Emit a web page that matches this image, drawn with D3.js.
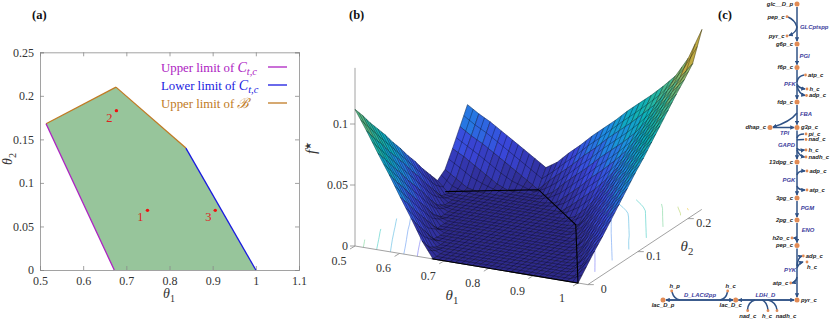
<!DOCTYPE html>
<html>
<head>
<meta charset="utf-8">
<script src="https://cdn.jsdelivr.net/npm/d3@7"></script>
<style>
  html, body { margin: 0; padding: 0; background: #fff; }
  svg { display: block; }
  text { font-family: "Liberation Serif", serif; fill: #333; }
  .met { font-family: "Liberation Sans", sans-serif; font-size: 5.9px; font-style: italic; font-weight: bold; fill: #222; }
  .rxn { font-family: "Liberation Sans", sans-serif; font-size: 5.9px; font-style: italic; font-weight: bold; fill: #3c3c9c; }
</style>
</head>
<body>
<script>
// Panel (a) values
var feasTheta1 = [0.514, 0.676, 0.838, 1, 0.672];
var feasTheta2 = [0.168, 0.21, 0.14, 0, 0];
var opTheta1 = [0.749, 0.677, 0.906];
var opTheta2 = [0.0685, 0.183, 0.0685];
var opNames = ["1", "2", "3"];
var aXTicks = [0.5, 0.6, 0.7, 0.8, 0.9, 1, 1.1];
var aYTicks = [0, 0.05, 0.1, 0.15, 0.2, 0.25];

// Panel (b) values, f* in thousandths: one row per theta2, one column per theta1
var surfTheta1 = [0.5, 0.525, 0.55, 0.575, 0.6, 0.625, 0.65, 0.675, 0.7, 0.725, 0.75, 0.775, 0.8, 0.825, 0.85, 0.875, 0.9, 0.925, 0.95, 0.975, 1];
var surfTheta2 = [0, 0.015, 0.03, 0.045, 0.06, 0.075, 0.09, 0.105, 0.12, 0.135, 0.15, 0.165, 0.18, 0.195, 0.21, 0.225];
var fStarMilli = [
  [112, 96, 79, 63, 46, 30, 13, 0, 0, 0, 0, 0, 0, 0, 0, 0, 0, 0, 0, 0, 0],
  [103, 86, 70, 53, 37, 20, 4, 0, 0, 0, 0, 0, 0, 0, 0, 0, 0, 0, 0, 0, 9],
  [93, 77, 60, 44, 27, 11, 0, 0, 0, 0, 0, 0, 0, 0, 0, 0, 0, 0, 0, 5, 18],
  [84, 67, 51, 34, 18, 1, 0, 0, 0, 0, 0, 0, 0, 0, 0, 0, 0, 0, 1, 14, 26],
  [75, 58, 41, 25, 9, 0, 0, 0, 0, 0, 0, 0, 0, 0, 0, 0, 0, 0, 10, 22, 35],
  [65, 49, 32, 16, 0, 0, 0, 0, 0, 0, 0, 0, 0, 0, 0, 0, 0, 5, 18, 31, 44],
  [56, 39, 23, 6, 0, 0, 0, 0, 0, 0, 0, 0, 0, 0, 0, 0, 1, 14, 27, 40, 53],
  [46, 30, 13, 0, 0, 0, 0, 0, 0, 0, 0, 0, 0, 0, 0, 0, 10, 23, 36, 49, 62],
  [37, 20, 4, 0, 0, 0, 0, 0, 0, 0, 0, 0, 0, 0, 0, 6, 19, 32, 45, 58, 70],
  [27, 11, 0, 0, 0, 0, 0, 0, 0, 0, 0, 0, 0, 0, 2, 15, 28, 41, 53, 66, 79],
  [18, 2, 0, 0, 0, 0, 0, 0, 0, 0, 0, 0, 0, 3, 12, 24, 37, 49, 62, 75, 88],
  [9, 0, 0, 0, 0, 0, 0, 0, 0, 0, 0, 0, 7, 15, 23, 33, 45, 58, 71, 84, 97],
  [14, 8, 2, 0, 0, 0, 0, 0, 0, 0, 2, 10, 18, 27, 35, 44, 54, 67, 80, 93, 106],
  [27, 22, 16, 10, 4, 0, 0, 0, 0, 5, 14, 22, 30, 39, 47, 55, 64, 76, 89, 102, 114],
  [41, 35, 30, 24, 18, 12, 6, 0, 9, 17, 25, 34, 42, 51, 59, 67, 76, 85, 98, 110, 123],
  [55, 49, 44, 38, 32, 26, 20, 14, 20, 29, 37, 46, 54, 62, 71, 79, 87, 96, 106, 122, 147]
];
var contourLevels = [0.02, 0.04, 0.06, 0.08, 0.1, 0.12, 0.14];
var bTheta1Ticks = [0.5, 0.6, 0.7, 0.8, 0.9, 1];
var bTheta2Ticks = [0, 0.1, 0.2];
var bFTicks = [0, 0.05, 0.1];

// Panel (c) pathway: name, x, y, label side, label x shift
var bigMets = [
  ["glc__D_p", 797, 4, "l"], ["g6p_c", 797, 44, "l"], ["f6p_c", 797, 67.5, "l"], ["fdp_c", 797, 102, "l"],
  ["g3p_c", 797, 127.5, "r"], ["dhap_c", 770, 127.5, "l"], ["13dpg_c", 797, 162, "l"], ["3pg_c", 797, 198, "l"],
  ["2pg_c", 797, 220, "l"], ["pep_c", 797, 245.5, "l"], ["pyr_c", 797, 300, "r"],
  ["lac_D_c", 735.7, 300, "b", -5], ["lac_D_p", 663, 300, "b"]
];
var smallMets = [
  ["pep_c", 787, 16.7, "l"], ["pyr_c", 787, 36, "l"], ["atp_c", 805.5, 75, "r"], ["h_c", 807, 89, "r"], ["adp_c", 806.5, 95.5, "r"],
  ["pi_c", 806, 134, "r"], ["nad_c", 806, 139.5, "r"], ["h_c", 806, 150, "r"], ["nadh_c", 806, 157, "r"],
  ["adp_c", 807, 171, "r"], ["atp_c", 807, 190, "r"], ["h2o_c", 792, 238, "l"], ["adp_c", 803.3, 256, "r"],
  ["h_c", 807, 262, "b", 5], ["atp_c", 790.7, 283, "l"], ["h_p", 671.7, 291, "t", 3], ["h_c", 727.7, 291, "t", 3],
  ["nad_c", 747.7, 310.7, "b"], ["h_c", 768, 310.7, "b", -1], ["nadh_c", 777, 310.7, "b", 9]
];
var reactions = [
  ["GLCptspp", 800, 27], ["PGI", 799.5, 55.5], ["PFK", 784, 84], ["FBA", 800, 113.5], ["TPI", 780, 132.7], ["GAPD", 778, 145],
  ["PGK", 782.5, 180], ["PGM", 800.7, 208], ["ENO", 801.7, 230], ["PYK", 784, 270], ["D_LACt2pp", 684, 294.5], ["LDH_D", 755.5, 294.5]
];
// edges that carry an arrow at the end
var arrowEdges = [
  "M797,7V41", "M797,47V64.5", "M797,70V99", "M797,105V124.5", "M797,130.5V159", "M797,165V195", "M797,201V217", "M797,223V242.5", "M797,248.5V297",
  "M797,27Q796,33 789,35.5", "M797,84Q798,88 805,89", "M797,86Q799,94 805,95.5", "M797,113Q790,122 773,127", "M773,127.5H794",
  "M797,148Q798,151 804.5,150", "M797,150Q799,156 804.5,157", "M797,175Q798,170.5 805,171", "M797,186Q798,190 805,190",
  "M797,238H793.5", "M797,266Q798,257 802,256", "M797,268Q799,263 803,262", "M797,277Q796,282 792,283",
  "M666,300H733", "M738.5,300H794", "M794,300H738.5", "M733,300H666"
];
// edges with no arrow
var plainEdges = [
  "M788,17Q795,20 797,27", "M797,82Q798,76 804,75", "M797,138Q798,134 804,134", "M797,140Q798,139.5 804,139.5",
  "M672,292Q674,299 680,300", "M727.5,292Q726,299 720,300", "M747.5,310Q748,302 755,300", "M768,310Q767,302 762,300", "M777,310Q776,302 768,300"
];

var svgWidth = 830;
var svgHeight = 319;
var svg = d3.select("body").append("svg")
  .attr("width", svgWidth)
  .attr("height", svgHeight);

function panelLabel(txt, x, y) {
  svg.append("text").attr("x", x).attr("y", y)
    .attr("font-size", 12.5).attr("font-weight", "bold").style("fill", "#111")
    .text(txt);
}
panelLabel("(a)", 32, 19);
panelLabel("(b)", 349, 19);
panelLabel("(c)", 718, 19);

// symbol with subscript, e.g. theta_1
function symbolLabel(g, x, y, main, sub, size, rotate) {
  var t = g.append("text")
    .attr("font-size", size)
    .attr("text-anchor", "middle")
    .attr("transform", `translate(${x},${y})` + (rotate ? ` rotate(${rotate})` : ""));
  t.append("tspan").attr("font-style", "italic").text(main);
  t.append("tspan").attr("font-size", size * 0.72).attr("dy", size * 0.25).text(sub);
  return t;
}

// ---------- Panel (a) ----------
var aX = d3.scaleLinear().domain([0.5, 1.1]).range([40, 299]);
var aY = d3.scaleLinear().domain([0, 0.25]).range([270, 52.3]);
var a = svg.append("g");

a.append("path")
  .attr("d", d3.line().x((d, i) => aX(feasTheta1[i])).y((d, i) => aY(feasTheta2[i]))(feasTheta1) + "Z")
  .attr("fill", "#97c59b");

// frame with inward ticks on all sides, axis style of the original
var axisColor = "#8a8a8a";
function styleAxis(sel) {
  sel.selectAll("path").attr("stroke", axisColor).attr("stroke-width", 0.8);
  sel.selectAll("line").attr("stroke", axisColor).attr("stroke-width", 0.8);
  sel.selectAll("text").attr("font-family", "Liberation Serif").attr("font-size", 12).style("fill", "#333");
}
var fmt = d => String(d);
a.append("g").attr("transform", "translate(0,270)")
  .call(d3.axisBottom(aX).tickValues(aXTicks).tickFormat(fmt).tickSize(-4).tickPadding(6))
  .call(styleAxis);
a.append("g").attr("transform", "translate(40,0)")
  .call(d3.axisLeft(aY).tickValues(aYTicks).tickFormat(fmt).tickSize(-4).tickPadding(6))
  .call(styleAxis);
a.append("g").attr("transform", "translate(0,52.3)")
  .call(d3.axisTop(aX).tickValues(aXTicks).tickFormat("").tickSize(-4))
  .call(styleAxis);
a.append("g").attr("transform", "translate(299,0)")
  .call(d3.axisRight(aY).tickValues(aYTicks).tickFormat("").tickSize(-4))
  .call(styleAxis);

// feasible region edges
var edgeLine = (from, to, color) => a.append("line")
  .attr("x1", aX(feasTheta1[from])).attr("y1", aY(feasTheta2[from]))
  .attr("x2", aX(feasTheta1[to])).attr("y2", aY(feasTheta2[to]))
  .attr("stroke", color).attr("stroke-width", 1.3);
edgeLine(0, 1, "#c07a24");
edgeLine(1, 2, "#c07a24");
edgeLine(2, 3, "#1a1ae0");
edgeLine(4, 0, "#ad22c2");

opNames.forEach(function(n, i) {
  a.append("circle").attr("cx", aX(opTheta1[i])).attr("cy", aY(opTheta2[i])).attr("r", 1.7).attr("fill", "#f01010");
  a.append("text").attr("x", aX(opTheta1[i]) - 7).attr("y", aY(opTheta2[i]) + 11)
    .attr("text-anchor", "middle").attr("font-size", 12.5).style("fill", "#e02020").text(n);
});

// legend
var legend = [["Upper limit of ", "C", "t,c", "#ad22c2", 72, 67], ["Lower limit of ", "C", "t,c", "#1a1ae0", 90, 85], ["Upper limit of ", "\u212C", "", "#c07a24", 108, 103]];
legend.forEach(function(d) {
  var t = a.append("text").attr("x", 161).attr("y", d[4]).attr("font-size", 12.8).style("fill", d[3]);
  t.append("tspan").text(d[0]);
  t.append("tspan").attr("font-style", "italic").attr("font-size", 14).text(d[1]);
  if (d[2]) t.append("tspan").attr("font-style", "italic").attr("font-size", 10.5).attr("dy", 3).text(d[2]);
  a.append("line").attr("x1", 268).attr("x2", 287).attr("y1", d[5]).attr("y2", d[5]).attr("stroke", d[3]).attr("stroke-width", 1.3);
});

symbolLabel(a, 169, 298, "\u03B8", "1", 14);
symbolLabel(a, 12, 159, "\u03B8", "2", 14, -90);

// ---------- Panel (b) ----------
// oblique view: each data axis has its own on-screen direction
var xOfT1 = d3.scaleLinear().domain([0.5, 1]).range([0, 223]);
var yOfT1 = d3.scaleLinear().domain([0.5, 1]).range([0, 37]);
var xOfT2 = d3.scaleLinear().domain([0, 0.25]).range([0, 125]);
var yOfT2 = d3.scaleLinear().domain([0, 0.25]).range([0, -82.5]);
var yOfF = d3.scaleLinear().domain([0, 0.15]).range([0, -183]);
var parula = d3.scaleLinear()
  .domain([0, 0.2, 0.35, 0.5, 0.62, 0.75, 0.88, 1].map(d => d * 0.147))
  .range(["#2e2a8c", "#3a48dc", "#1f8ae4", "#0cb0bc", "#2eb79a", "#86b86c", "#cfa838", "#f0c020"]);

function project(t1, t2, f) {
  // the camera is close enough that high right hand points lean outward
  var lean = 78 * f * (t1 - 0.5) / 0.5;
  return [355 + xOfT1(t1) + xOfT2(t2) + lean, 246 + yOfT1(t1) + yOfT2(t2) + yOfF(f)];
}

var b = svg.append("g");

// contours on the floor, drawn first so the surface hides them
var nCols = surfTheta1.length, nRows = surfTheta2.length;
var flatValues = [];
fStarMilli.forEach(row => row.forEach(v => flatValues.push(v / 1000)));
var colToT1 = d3.scaleLinear().domain([0, nCols - 1]).range([0.5, 1]);
var rowToT2 = d3.scaleLinear().domain([0, nRows - 1]).range([0, 0.225]);
var contourColor = d3.scaleLinear()
  .domain([0.02, 0.05, 0.08, 0.11, 0.14])
  .range(["#7f7ff5", "#6ab4f0", "#52d0c8", "#9fdc8c", "#f0c838"]);
var contourGen = d3.contours().size([nCols, nRows]).thresholds(contourLevels);
contourGen(flatValues).forEach(function(c) {
  var segs = [];
  c.coordinates.forEach(poly => poly.forEach(function(ring) {
    for (var k = 1; k < ring.length; k++) {
      var p = ring[k - 1], q = ring[k];
      var inside = pt => pt[0] >= 0.5 && pt[0] <= nCols - 0.5 && pt[1] >= 0.5 && pt[1] <= nRows - 0.5;
      if (inside(p) && inside(q)) {
        var P = project(colToT1(p[0] - 0.5), rowToT2(p[1] - 0.5), 0);
        var Q = project(colToT1(q[0] - 0.5), rowToT2(q[1] - 0.5), 0);
        segs.push(`M${P[0]},${P[1]}L${Q[0]},${Q[1]}`);
      }
    }
  }));
  b.append("path").attr("d", segs.join("")).attr("fill", "none")
    .attr("stroke", contourColor(c.value)).attr("stroke-width", 0.8).attr("opacity", 0.8);
});

// axes lines
var gridStroke = "#8a8a8a";
function seg3(p, q) {
  b.append("line").attr("x1", p[0]).attr("y1", p[1]).attr("x2", q[0]).attr("y2", q[1])
    .attr("stroke", gridStroke).attr("stroke-width", 0.8);
}
seg3(project(0.5, 0, 0), project(0.5, 0, 0.146));
seg3(project(0.5, 0, 0), project(1.022, 0, 0));
seg3(project(1.022, 0, 0), project(1.022, 0.228, 0));

bFTicks.forEach(function(v) {
  var p = project(0.5, 0, v);
  seg3([p[0] - 5, p[1]], p);
  b.append("text").attr("x", p[0] - 7).attr("y", p[1] + 4).attr("text-anchor", "end").attr("font-size", 12).text(fmt(v));
});
bTheta1Ticks.forEach(function(v) {
  var p = project(v, 0, 0);
  seg3(p, [p[0] - 5, p[1] + 3]);
  b.append("text").attr("x", p[0] - 16).attr("y", p[1] + 19).attr("text-anchor", "middle").attr("font-size", 12).text(fmt(v));
});
bTheta2Ticks.forEach(function(v) {
  var p = project(1.022, v, 0);
  seg3(p, [p[0] + 6, p[1]]);
  b.append("text").attr("x", p[0] + 16).attr("y", p[1] + 8).attr("text-anchor", "middle").attr("font-size", 12).text(fmt(v));
});

// surface cells, far to near. Each cell gets its two mid lines so the mesh reads as dense as the original
var cells = b.append("g");
for (var j = nRows - 2; j >= 0; j--) {
  for (var i = 0; i < nCols - 1; i++) {
    var f00 = fStarMilli[j][i] / 1000, f10 = fStarMilli[j][i + 1] / 1000;
    var f01 = fStarMilli[j + 1][i] / 1000, f11 = fStarMilli[j + 1][i + 1] / 1000;
    var p00 = project(surfTheta1[i], surfTheta2[j], f00);
    var p10 = project(surfTheta1[i + 1], surfTheta2[j], f10);
    var p11 = project(surfTheta1[i + 1], surfTheta2[j + 1], f11);
    var p01 = project(surfTheta1[i], surfTheta2[j + 1], f01);
    var mid = (p, q) => [(p[0] + q[0]) / 2, (p[1] + q[1]) / 2];
    var m1 = mid(p00, p10), m2 = mid(p01, p11), m3 = mid(p00, p01), m4 = mid(p10, p11);
    var color = parula((f00 + f10 + f01 + f11) / 4);
    cells.append("path")
      .attr("d", `M${p00}L${p10}L${p11}L${p01}Z`)
      .attr("fill", color).attr("stroke", color).attr("stroke-width", 0.4);
    cells.append("path")
      .attr("d", `M${p00}L${p10}L${p11}L${p01}ZM${m1}L${m2}M${m3}L${m4}`)
      .attr("fill", "none").attr("stroke", "#000").attr("stroke-width", 0.5).attr("stroke-opacity", 0.65);
  }
}

// feasible region outline on the floor
b.append("path")
  .attr("d", d3.line()(feasTheta1.map((d, i) => project(d, feasTheta2[i], 0))))
  .attr("fill", "none").attr("stroke", "#000").attr("stroke-width", 1.1);

symbolLabel(b, 452, 300, "\u03B8", "1", 15);
symbolLabel(b, 687, 251, "\u03B8", "2", 15);
var fLabel = b.append("text").attr("font-size", 15).attr("text-anchor", "middle")
  .attr("transform", "translate(316,148) rotate(-90)");
fLabel.append("tspan").attr("font-style", "italic").text("f");
fLabel.append("tspan").attr("font-size", 9).attr("dy", -5).text("\u2605");

// ---------- Panel (c) ----------
var c = svg.append("g");
var defs = svg.append("defs");
defs.append("marker").attr("id", "arr").attr("viewBox", "0 0 6 6").attr("refX", 5).attr("refY", 3)
  .attr("markerWidth", 3).attr("markerHeight", 3).attr("orient", "auto")
  .append("path").attr("d", "M0,0L6,3L0,6Z").attr("fill", "#2f5286");

c.selectAll("path.arrow").data(arrowEdges).enter().append("path")
  .attr("class", "arrow").attr("d", d => d)
  .attr("fill", "none").attr("stroke", "#2f5286").attr("stroke-width", 1.5).attr("marker-end", "url(#arr)");
c.selectAll("path.plain").data(plainEdges).enter().append("path")
  .attr("class", "plain").attr("d", d => d)
  .attr("fill", "none").attr("stroke", "#2f5286").attr("stroke-width", 1.5);

function metLabel(d, gap) {
  var shift = d[4] || 0;
  var pos = {
    l: [d[1] - gap, d[2] + 1.8, "end"],
    r: [d[1] + gap, d[2] + 1.8, "start"],
    t: [d[1], d[2] - 3, "middle"],
    b: [d[1], d[2] + 7, "middle"]
  }[d[3]];
  c.append("text").attr("class", "met").attr("x", pos[0] + shift).attr("y", pos[1]).attr("text-anchor", pos[2]).text(d[0]);
}
bigMets.forEach(function(d) {
  c.append("circle").attr("cx", d[1]).attr("cy", d[2]).attr("r", 2.5).attr("fill", "#e18b55");
  metLabel(d, 4);
});
smallMets.forEach(function(d) {
  c.append("circle").attr("cx", d[1]).attr("cy", d[2]).attr("r", 1.4).attr("fill", "#e18b55");
  metLabel(d, 2.5);
});
reactions.forEach(function(d) {
  c.append("text").attr("class", "rxn").attr("x", d[1]).attr("y", d[2] + 2).text(d[0]);
});
</script>
</body>
</html>
